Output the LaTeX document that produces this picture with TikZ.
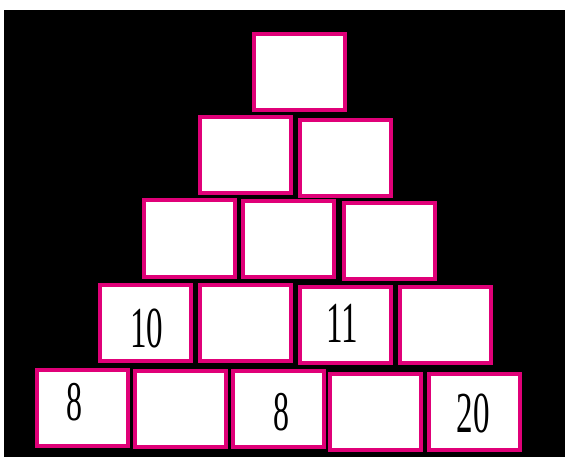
\documentclass[tikz,border=0pt]{standalone}
\usepackage{fontspec}
\setmainfont{Liberation Serif}
\definecolor{cellpink}{RGB}{224,0,120}
\newcommand{\digits}[1]{\scalebox{0.57}[1]{#1}}
\tikzset{
    cell/.style={draw=cellpink, line width=4pt, fill=white,
        minimum width=91pt, minimum height=76pt, inner sep=0pt,
        font=\fontsize{58}{60}\selectfont}
}
\begin{document}
\begin{tikzpicture}[x=1pt, y=-1pt]
    % background
    \useasboundingbox (0,0) rectangle (565,457);
    \fill[white] (0,0) rectangle (565,457);
    \fill[black] (4,10) rectangle (565,457);

    % Row 1
    \node[cell] (r1a) at (299,72.5) {};

    % Row 2
    \node[cell] (r2a) at (245,154.7) {};
    \node[cell] (r2b) at (345.8,158.2) {};

    % Row 3
    \node[cell] (r3a) at (189.5,238.5) {};
    \node[cell] (r3b) at (288,239) {};
    \node[cell] (r3c) at (389.7,240.8) {};

    % Row 4
    \node[cell] (r4a) at (145.2,322.5) {};
    \node[cell] (r4b) at (245,322.5) {};
    \node[cell] (r4c) at (345,325) {};
    \node[cell] (r4d) at (445,325) {};

    % Row 5
    \node[cell] (r5a) at (82.2,407.7) {};
    \node[cell] (r5b) at (180.2,409) {};
    \node[cell] (r5c) at (278,409.2) {};
    \node[cell] (r5d) at (375.8,411.7) {};
    \node[cell] (r5e) at (474.3,411.5) {};

    % given numbers
    \node[font=\fontsize{58}{60}\selectfont] (t4a) at (146.7,328.3) {\digits{10}};
    \node[font=\fontsize{58}{60}\selectfont] (t4c) at (342,323.3) {\digits{11}};
    \node[font=\fontsize{56}{60}\selectfont] (t5a) at (74.7,402.5) {\digits{8}};
    \node[font=\fontsize{56}{60}\selectfont] (t5c) at (281,412.5) {\digits{8}};
    \node[font=\fontsize{58}{60}\selectfont] (t5e) at (473.3,413) {\digits{20}};
\end{tikzpicture}
\end{document}
